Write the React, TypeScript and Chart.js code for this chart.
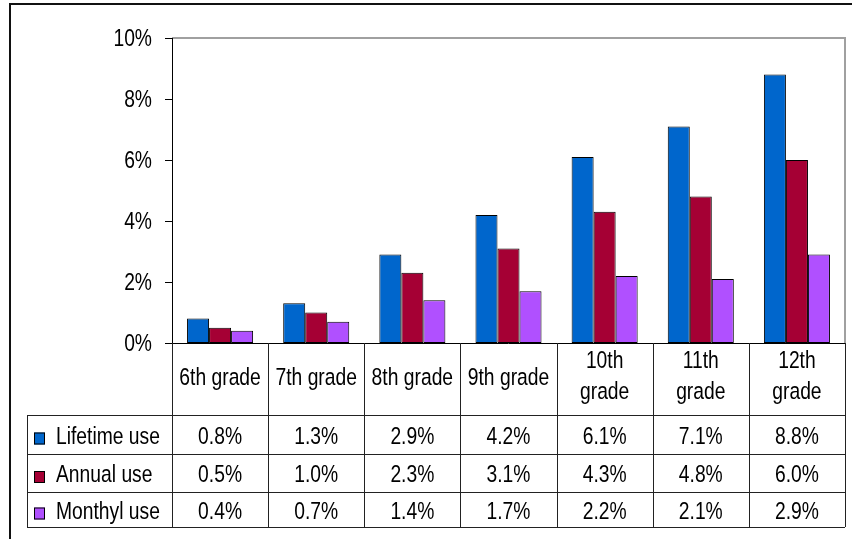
import React, { useEffect, useRef } from "react";
import { Chart, registerables } from "chart.js";

Chart.register(...registerables);

const categories: string[][] = [
  ["6th grade"],
  ["7th grade"],
  ["8th grade"],
  ["9th grade"],
  ["10th", "grade"],
  ["11th", "grade"],
  ["12th", "grade"],
];
const lifetimeUse = [0.8, 1.3, 2.9, 4.2, 6.1, 7.1, 8.8];
const annualUse = [0.5, 1.0, 2.3, 3.1, 4.3, 4.8, 6.0];
const monthlyUse = [0.4, 0.7, 1.4, 1.7, 2.2, 2.1, 2.9];
const seriesNames = ["Lifetime use", "Annual use", "Monthyl use"];
const seriesColors = ["#0066CC", "#A50034", "#B050FF"];
const yTicks = [0, 2, 4, 6, 8, 10];

const FS = 19.3;
const SY = 1.2;
const FONT = `${FS}px "Liberation Sans", Arial, sans-serif`;

function drawText(ctx: CanvasRenderingContext2D, text: string, x: number, yc: number, align: CanvasTextAlign) {
  ctx.save();
  ctx.font = FONT;
  ctx.fillStyle = "#000";
  ctx.textAlign = align;
  ctx.textBaseline = "alphabetic";
  const capH = 0.716 * FS * SY;
  ctx.translate(x, yc + capH / 2);
  ctx.scale(1, SY);
  ctx.fillText(text, 0, 0);
  ctx.restore();
}

const tablePlugin = {
  id: "tablePlugin",
  beforeDatasetsDraw(chart: any) {
    const ctx: CanvasRenderingContext2D = chart.ctx;
    const ca = chart.chartArea;
    ctx.save();
    // outer frame
    ctx.fillStyle = "#111";
    ctx.fillRect(9, 3, chart.width - 9, 2);
    ctx.fillRect(9, 3, 2, chart.height - 3);
    // plot area gray border (top and right)
    ctx.strokeStyle = "#a0a0a0";
    ctx.lineWidth = 2;
    ctx.beginPath();
    ctx.moveTo(ca.left, ca.top);
    ctx.lineTo(ca.right, ca.top);
    ctx.lineTo(ca.right, ca.bottom);
    ctx.stroke();
    ctx.restore();
  },
  afterDatasetsDraw(chart: any) {
    const ctx: CanvasRenderingContext2D = chart.ctx;
    const ca = chart.chartArea;
    const xs = chart.scales.x;
    const ys = chart.scales.y;
    const n = categories.length;
    const cw = (ca.right - ca.left) / n;
    ctx.save();
    ctx.strokeStyle = "#000";
    ctx.lineWidth = 1;
    // y axis line and ticks
    ctx.beginPath();
    ctx.moveTo(ca.left + 0.5, ca.top);
    ctx.lineTo(ca.left + 0.5, ca.bottom);
    yTicks.forEach((v) => {
      const y = Math.round(ys.getPixelForValue(v)) + 0.5;
      ctx.moveTo(ca.left - 7, y);
      ctx.lineTo(ca.left, y);
    });
    // baseline
    const by = Math.round(ys.getPixelForValue(0)) + 0.5;
    ctx.moveTo(ca.left, by);
    ctx.lineTo(ca.right, by);
    ctx.stroke();
    yTicks.forEach((v) => {
      drawText(ctx, `${v}%`, ca.left - 20, ys.getPixelForValue(v), "right");
    });

    // data table
    const headerBottom = ca.bottom + 72;
    const rowH = [39, 38, 35];
    const rowTops = [headerBottom, headerBottom + rowH[0], headerBottom + rowH[0] + rowH[1]];
    const tableBottom = rowTops[2] + rowH[2];
    const legendLeft = 27;
    ctx.strokeStyle = "#222";
    ctx.beginPath();
    for (let i = 0; i <= n; i++) {
      const x = Math.round(xs.getPixelForValue(i) - cw / 2) + 0.5;
      ctx.moveTo(x, ca.bottom);
      ctx.lineTo(x, tableBottom);
    }
    ctx.moveTo(legendLeft + 0.5, headerBottom);
    ctx.lineTo(legendLeft + 0.5, tableBottom);
    [headerBottom, rowTops[1], rowTops[2], tableBottom].forEach((y) => {
      ctx.moveTo(legendLeft, y + 0.5);
      ctx.lineTo(ca.right, y + 0.5);
    });
    ctx.stroke();

    // header
    categories.forEach((lines, i) => {
      const cx = xs.getPixelForValue(i);
      if (lines.length === 1) {
        drawText(ctx, lines[0], cx, ca.bottom + 34, "center");
      } else {
        drawText(ctx, lines[0], cx, ca.bottom + 17, "center");
        drawText(ctx, lines[1], cx, ca.bottom + 48, "center");
      }
    });

    const series = [lifetimeUse, annualUse, monthlyUse];
    series.forEach((vals, r) => {
      const yc = rowTops[r] + rowH[r] / 2 + 1;
      // legend key
      ctx.fillStyle = seriesColors[r];
      ctx.fillRect(34, yc - 3, 11, 12);
      ctx.strokeStyle = "#000";
      ctx.strokeRect(34.5, yc - 2.5, 10, 11);
      drawText(ctx, seriesNames[r], 56, yc, "left");
      vals.forEach((v, i) => {
        drawText(ctx, `${v.toFixed(1)}%`, xs.getPixelForValue(i), yc, "center");
      });
    });
    ctx.restore();
  },
};

export default function App() {
  const ref = useRef<HTMLCanvasElement | null>(null);
  useEffect(() => {
    if (!ref.current) return;
    const chart = new Chart(ref.current, {
      type: "bar",
      data: {
        labels: categories.map((c) => c.join(" ")),
        datasets: [lifetimeUse, annualUse, monthlyUse].map((d, i) => ({
          label: seriesNames[i],
          data: d,
          backgroundColor: seriesColors[i],
          borderColor: "#000",
          borderWidth: 1,
          borderSkipped: false,
          categoryPercentage: 0.687,
          barPercentage: 1.0,
        })),
      },
      options: {
        responsive: false,
        animation: false,
        layout: { padding: { left: 172, top: 38, right: 7, bottom: 196 } },
        plugins: { legend: { display: false }, tooltip: { enabled: false } },
        scales: {
          x: { display: false },
          y: { display: false, min: 0, max: 10 },
        },
      },
      plugins: [tablePlugin],
    });
    return () => chart.destroy();
  }, []);
  return (
    <div style={{ position: "absolute", left: 0, top: 0, width: 852, height: 539, background: "#fff" }}>
      <canvas ref={ref} width={852} height={539} style={{ display: "block" }} />
    </div>
  );
}
